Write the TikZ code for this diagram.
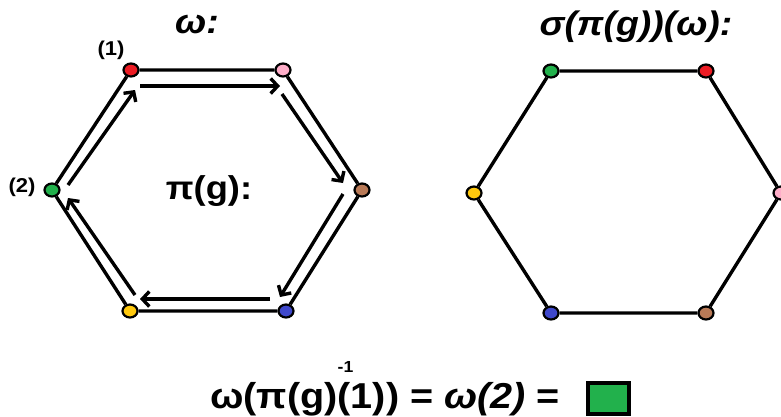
\documentclass[tikz,border=0pt]{standalone}
\usepackage{fontspec}
\setmainfont{Liberation Sans}[FakeStretch=1.1]
\usetikzlibrary{arrows.meta,shapes.geometric}
\definecolor{pred}{HTML}{ED1C24}
\definecolor{ppink}{HTML}{FFAEC9}
\definecolor{pbrown}{HTML}{B97A57}
\definecolor{pblue}{HTML}{3F48CC}
\definecolor{pyellow}{HTML}{FFC90E}
\definecolor{pgreen}{HTML}{22B14C}
\begin{document}
\begin{tikzpicture}[x=1pt,y=-1pt,
  dot/.style={ellipse,draw=black,line width=2.2pt,fill=#1,minimum width=15pt,minimum height=13pt,inner sep=0pt},
  edge/.style={line width=3.4pt},
  cyc/.style={line width=3.4pt,-{Straight Barb[length=7pt,width=15pt]}},
  title/.style={font=\fontsize{34}{40}\selectfont\bfseries\itshape,inner sep=0pt,anchor=base},
  lab/.style={font=\fontsize{20}{24}\selectfont\bfseries,inner sep=0pt}]
\useasboundingbox[fill=white] (0,0) rectangle (781,416);
% left hexagon
\node[dot=pred]    (l1) at (131,70) {};
\node[dot=ppink]   (l2) at (283,70) {};
\node[dot=pbrown]  (l3) at (362,190) {};
\node[dot=pblue]   (l4) at (286,311) {};
\node[dot=pyellow] (l5) at (130,311) {};
\node[dot=pgreen]  (l6) at (52,190) {};
\draw[edge] (l1)--(l2) (l2)--(l3) (l3)--(l4) (l4)--(l5) (l5)--(l6) (l6)--(l1);
% arrows of pi(g)
\coordinate (a1s) at (140,86);  \coordinate (a1e) at (280,86);
\coordinate (a2s) at (282,94);  \coordinate (a2e) at (343,183);
\coordinate (a3s) at (343,194); \coordinate (a3e) at (280,297);
\coordinate (a4s) at (270,299); \coordinate (a4e) at (140,299);
\coordinate (a5s) at (135,295); \coordinate (a5e) at (68,198);
\coordinate (a6s) at (68,185);  \coordinate (a6e) at (135,90);
\draw[cyc] (a1s)--(a1e);
\draw[cyc] (a2s)--(a2e);
\draw[cyc] (a3s)--(a3e);
\draw[cyc] (a4s)--(a4e);
\draw[cyc] (a5s)--(a5e);
\draw[cyc] (a6s)--(a6e);
% right hexagon
\node[dot=pgreen]  (r1) at (551,71) {};
\node[dot=pred]    (r2) at (706,71) {};
\node[dot=ppink]   (r3) at (781,193) {};
\node[dot=pbrown]  (r4) at (706,313) {};
\node[dot=pblue]   (r5) at (551,313) {};
\node[dot=pyellow] (r6) at (474,193) {};
\draw[edge] (r1)--(r2) (r2)--(r3) (r3)--(r4) (r4)--(r5) (r5)--(r6) (r6)--(r1);
% texts
\node[title] (t1) at (197,33) {ω:};
\node[title] (t2) at (636,35) {σ(π(g))(ω):};
\node[font=\fontsize{33}{38}\selectfont\bfseries,inner sep=0pt,anchor=base] (pig) at (209,199) {π(g):};
\node[lab] (n1) at (111,50) {(1)};
\node[lab] (n2) at (22,187) {(2)};
\node[font=\fontsize{36}{40}\selectfont\bfseries,inner sep=0pt,anchor=base west] (f) at (210,408)
  {ω(π(g)\makebox[0pt][l]{\raisebox{36pt}{\fontsize{16}{18}\selectfont -1}}(1)) = \textit{ω(2)} =};
\node[draw=black,line width=4pt,fill=pgreen,minimum width=41pt,minimum height=31pt,inner sep=0pt] (box) at (608.5,398.5) {};
\end{tikzpicture}
\end{document}
